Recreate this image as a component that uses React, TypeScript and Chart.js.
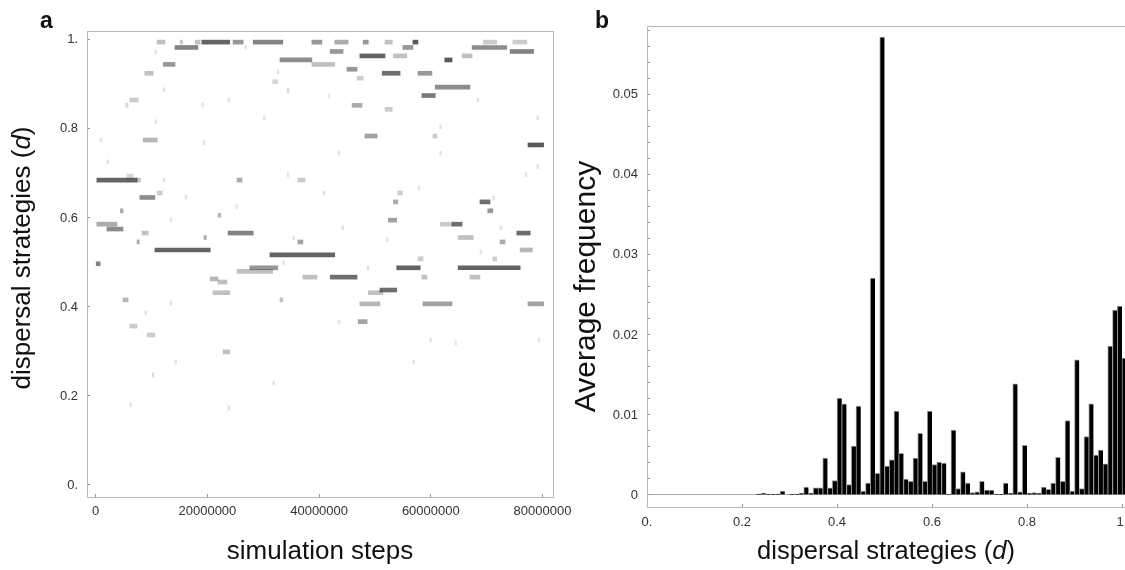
import React, { useEffect, useRef } from "react";
import { Chart, registerables } from "chart.js";

Chart.register(...registerables);

const FONT = "'Liberation Sans', Arial, Helvetica, sans-serif";

// ---------- Panel a: strategy occupancy over time (segments in millions of steps) ----------
const segStartM = [11.0, 15.1, 17.8, 19.0, 24.6, 28.2, 38.7, 42.8, 47.9, 51.8, 56.8, 69.4, 74.7, 14.2, 55.0, 67.4, 42.0, 74.2, 47.3, 53.3, 65.6, 33.0, 62.5, 12.1, 38.7, 45.0, 8.8, 51.3, 57.7, 46.8, 31.7, 60.8, 34.3, 58.4, 6.1, 5.4, 45.9, 51.8, 48.2, 60.4, 8.5, 77.4, 5.6, 0.2, 7.4, 25.3, 36.2, 11.0, 54.1, 7.9, 53.3, 68.8, 4.4, 70.2, 21.9, 52.4, 0.2, 61.7, 63.8, 2.0, 8.3, 23.7, 75.4, 19.4, 64.9, 7.4, 36.2, 72.4, 10.6, 76.0, 31.2, 57.7, 71.1, 0.0, 27.6, 53.9, 64.9, 25.3, 37.1, 42.0, 58.4, 67.0, 20.5, 21.9, 50.9, 48.8, 21.0, 4.9, 33.0, 47.3, 58.6, 77.4, 47.0, 6.1, 9.2, 22.8, 10.1];
const segEndM = [12.4, 15.6, 18.7, 24.0, 26.4, 33.5, 40.5, 45.2, 48.8, 53.1, 57.7, 71.8, 77.2, 18.3, 56.8, 73.6, 44.3, 78.4, 51.8, 55.7, 67.4, 38.7, 63.8, 14.2, 42.8, 46.8, 10.3, 54.5, 60.2, 47.9, 32.6, 67.0, 34.6, 60.8, 7.6, 5.8, 47.7, 53.1, 50.4, 61.1, 11.0, 80.2, 6.7, 7.4, 8.0, 26.2, 37.5, 11.9, 54.9, 10.6, 54.1, 70.6, 4.9, 71.1, 22.4, 53.9, 3.8, 63.8, 65.6, 4.9, 9.4, 28.2, 77.8, 19.8, 67.6, 7.8, 37.1, 73.3, 20.5, 78.2, 42.8, 58.6, 71.8, 0.8, 32.6, 58.1, 76.0, 31.7, 39.6, 46.8, 59.3, 68.8, 21.9, 23.5, 53.9, 51.4, 24.0, 5.8, 33.5, 50.9, 63.8, 80.2, 48.6, 7.4, 10.6, 24.0, 10.4];
const segStrategy = [0.995, 0.995, 0.995, 0.995, 0.995, 0.995, 0.995, 0.995, 0.995, 0.995, 0.995, 0.995, 0.995, 0.983, 0.983, 0.983, 0.974, 0.974, 0.964, 0.964, 0.964, 0.955, 0.955, 0.945, 0.945, 0.934, 0.925, 0.925, 0.925, 0.914, 0.906, 0.894, 0.886, 0.875, 0.865, 0.853, 0.853, 0.844, 0.784, 0.784, 0.775, 0.764, 0.694, 0.685, 0.685, 0.685, 0.685, 0.656, 0.656, 0.646, 0.636, 0.636, 0.616, 0.616, 0.606, 0.595, 0.586, 0.586, 0.586, 0.575, 0.566, 0.566, 0.566, 0.556, 0.556, 0.546, 0.546, 0.546, 0.528, 0.528, 0.517, 0.508, 0.508, 0.497, 0.488, 0.488, 0.488, 0.48, 0.467, 0.467, 0.467, 0.467, 0.463, 0.456, 0.438, 0.432, 0.432, 0.416, 0.416, 0.407, 0.407, 0.407, 0.367, 0.357, 0.337, 0.299, 0.247];
const segShade = [0.3, 0.25, 0.3, 0.75, 0.5, 0.6, 0.5, 0.4, 0.5, 0.3, 0.8, 0.25, 0.25, 0.6, 0.5, 0.55, 0.5, 0.6, 0.75, 0.3, 0.3, 0.55, 0.8, 0.5, 0.3, 0.5, 0.3, 0.7, 0.5, 0.25, 0.2, 0.55, 0.2, 0.65, 0.25, 0.2, 0.4, 0.25, 0.45, 0.25, 0.35, 0.8, 0.2, 0.75, 0.3, 0.4, 0.25, 0.25, 0.25, 0.55, 0.4, 0.7, 0.4, 0.5, 0.35, 0.45, 0.4, 0.25, 0.7, 0.55, 0.3, 0.6, 0.7, 0.4, 0.3, 0.4, 0.45, 0.4, 0.75, 0.35, 0.75, 0.25, 0.25, 0.6, 0.5, 0.75, 0.75, 0.3, 0.3, 0.7, 0.3, 0.3, 0.35, 0.3, 0.7, 0.3, 0.3, 0.35, 0.3, 0.35, 0.45, 0.45, 0.45, 0.25, 0.25, 0.3, 0.2];

// faint isolated occurrences (millions of steps, strategy)
const speckTimeM = [10.6, 12.1, 19.0, 23.7, 26.7, 30.0, 10.6, 32.5, 16.0, 34.3, 25.1, 13.3, 2.0, 12.1, 0.8, 19.2, 33.5, 35.3, 41.6, 61.6, 68.3, 79.0, 43.4, 61.6, 79.0, 76.9, 40.7, 57.7, 71.1, 44.1, 72.4, 52.1, 68.8, 48.6, 13.3, 8.8, 14.2, 31.7, 6.1, 23.7, 43.4, 56.8, 64.3, 59.8, 79.2];
const speckStrategy = [0.973, 0.888, 0.854, 0.865, 0.984, 0.825, 0.816, 0.928, 0.647, 0.697, 0.625, 0.596, 0.726, 0.685, 0.775, 0.769, 0.499, 0.555, 0.874, 0.804, 0.865, 0.825, 0.746, 0.746, 0.715, 0.697, 0.656, 0.667, 0.645, 0.578, 0.578, 0.551, 0.524, 0.488, 0.409, 0.387, 0.276, 0.229, 0.18, 0.173, 0.366, 0.276, 0.319, 0.326, 0.326];

const timeTicks = [0, 20000000, 40000000, 60000000, 80000000];
const timeTickLabels = ["0", "20000000", "40000000", "60000000", "80000000"];
const strategyTicks = [0, 0.2, 0.4, 0.6, 0.8, 1];
const strategyTickLabels = ["0.", "0.2", "0.4", "0.6", "0.8", "1."];

// ---------- Panel b: histogram of average frequency, bins of width 0.01 starting at 0 ----------
const binWidth = 0.01;
const freqValues = [
  0, 0, 0, 0, 0, 0, 0, 0, 0, 0,
  0, 0, 0, 0, 0, 0, 0, 0, 0, 0,
  0, 0, 0, 0.0001, 0.0002, 0.0001, 0.0001, 0.0001, 0.0005, 0,
  0.0001, 0.0001, 0.0002, 0.0010, 0.0002, 0.0009, 0.0009, 0.0046, 0.0009, 0.0018,
  0.0121, 0.0114, 0.0013, 0.0061, 0.0111, 0.0005, 0.0015, 0.0271, 0.0027, 0.0572,
  0.0036, 0.0044, 0.0105, 0.0052, 0.0020, 0.0017, 0.0046, 0.0077, 0.0017, 0.0105,
  0.0038, 0.0041, 0.0040, 0.0001, 0.0081, 0.0008, 0.0029, 0.0015, 0.0003, 0.0004,
  0.0017, 0.0006, 0.0006, 0.0001, 0.0001, 0.0015, 0.0002, 0.0139, 0.0004, 0.0062,
  0.0002, 0.0003, 0.0002, 0.0010, 0.0007, 0.0015, 0.0047, 0.0017, 0.0093, 0.0005,
  0.0169, 0.0008, 0.0073, 0.0114, 0.0050, 0.0056, 0.0039, 0.0186, 0.0231, 0.0236,
  0.0171,
];
const dispersalTicks = [0, 0.2, 0.4, 0.6, 0.8, 1];
const dispersalTickLabels = ["0.", "0.2", "0.4", "0.6", "0.8", "1."];
const freqMajorTicks = [0, 0.01, 0.02, 0.03, 0.04, 0.05];
const freqMajorLabels = ["0", "0.01", "0.02", "0.03", "0.04", "0.05"];
const freqMinorStep = 0.002;
const freqTickMax = 0.058;

type Part = { t: string; i?: boolean };

function drawRich(ctx: CanvasRenderingContext2D, parts: Part[], cx: number, cy: number, size: number, rot: number) {
  ctx.save();
  ctx.translate(cx, cy);
  ctx.rotate(rot);
  ctx.fillStyle = "#111";
  ctx.textBaseline = "middle";
  ctx.textAlign = "left";
  const fontOf = (p: Part) => `${p.i ? "italic " : ""}${size}px ${FONT}`;
  let total = 0;
  const widths = parts.map((p) => {
    ctx.font = fontOf(p);
    const w = ctx.measureText(p.t).width;
    total += w;
    return w;
  });
  let x = -total / 2;
  parts.forEach((p, k) => {
    ctx.font = fontOf(p);
    ctx.fillText(p.t, x, 0);
    x += widths[k];
  });
  ctx.restore();
}

const dispersalTitle: Part[] = [{ t: "dispersal strategies (" }, { t: "d", i: true }, { t: ")" }];

const decorA = {
  id: "decorA",
  afterDraw(chart: any) {
    const { ctx, chartArea } = chart;
    const { left, right, top, bottom } = chartArea;
    ctx.save();
    ctx.strokeStyle = "#b8b8b8";
    ctx.lineWidth = 1;
    ctx.strokeRect(Math.round(left) + 0.5, Math.round(top) + 0.5, Math.round(right - left), Math.round(bottom - top));
    ctx.restore();
    drawRich(ctx, dispersalTitle, 23, (top + bottom) / 2 - 6, 26, -Math.PI / 2);
    drawRich(ctx, [{ t: "simulation steps" }], (left + right) / 2, 552, 26, 0);
    ctx.save();
    ctx.fillStyle = "#111";
    ctx.font = `bold 23px ${FONT}`;
    ctx.textBaseline = "alphabetic";
    ctx.fillText("a", 40, 28);
    ctx.restore();
  },
};

const decorB = {
  id: "decorB",
  afterDraw(chart: any) {
    const { ctx, chartArea } = chart;
    const { left, right, top, bottom } = chartArea;
    ctx.save();
    ctx.strokeStyle = "#b8b8b8";
    ctx.lineWidth = 1;
    ctx.beginPath();
    const l = Math.round(left) + 0.5;
    const t = Math.round(top) + 0.5;
    const b = Math.round(bottom) + 0.5;
    ctx.moveTo(right, t);
    ctx.lineTo(l, t);
    ctx.lineTo(l, b);
    ctx.lineTo(right, b);
    ctx.stroke();
    ctx.restore();
    drawRich(ctx, [{ t: "Average frequency" }], 17, (top + bottom) / 2 + 20, 30, -Math.PI / 2);
    drawRich(ctx, dispersalTitle, (left + right) / 2, 552, 25.5, 0);
    ctx.save();
    ctx.fillStyle = "#111";
    ctx.font = `bold 23px ${FONT}`;
    ctx.textBaseline = "alphabetic";
    ctx.fillText("b", 25, 28);
    ctx.restore();
  },
};

const tickFont = { family: FONT, size: 13 };

function zeroPad(s: any) {
  s.paddingLeft = 0;
  s.paddingRight = 0;
  s.paddingTop = 0;
  s.paddingBottom = 0;
}

export default function App() {
  const refA = useRef<HTMLCanvasElement>(null);
  const refB = useRef<HTMLCanvasElement>(null);

  useEffect(() => {
    const segData = segStartM.map((s, i) => ({ x: [s * 1e6, segEndM[i] * 1e6], y: segStrategy[i] }));
    const speckData = speckTimeM.map((t, i) => ({ x: [t * 1e6, (t + 0.3) * 1e6], y: speckStrategy[i] }));
    const aData = segData.concat(speckData);
    const aColors = segShade.map((l) => `rgba(25,25,25,${l * 0.9})`).concat(speckTimeM.map(() => "rgba(25,25,25,0.12)"));

    const chartA = new Chart(refA.current as HTMLCanvasElement, {
      type: "bar",
      data: {
        datasets: [
          {
            data: aData as any,
            backgroundColor: aColors,
            borderWidth: 0,
            barThickness: 4,
          },
        ],
      },
      options: {
        indexAxis: "y",
        responsive: false,
        animation: false,
        events: [],
        layout: { padding: { left: 0, top: 31, right: 27, bottom: 0 } },
        plugins: { legend: { display: false }, tooltip: { enabled: false } },
        scales: {
          x: {
            type: "linear",
            position: "bottom",
            min: -1.56e6,
            max: 81.88e6,
            offset: false,
            afterFit: (s: any) => {
              s.height = 73;
              zeroPad(s);
            },
            afterBuildTicks: (s: any) => {
              s.ticks = timeTicks.map((v) => ({ value: v }));
            },
            ticks: {
              autoSkip: false,
              maxRotation: 0,
              padding: 10,
              color: "#333",
              font: tickFont,
              callback: (_v: any, i: number) => timeTickLabels[i],
            },
            grid: { display: true, drawOnChartArea: false, drawTicks: true, tickLength: -3, tickColor: "#999", offset: false },
            border: { display: false },
          },
          y: {
            type: "linear",
            position: "left",
            min: -0.027,
            max: 1.02,
            offset: false,
            afterFit: (s: any) => {
              s.width = 87;
              zeroPad(s);
            },
            afterBuildTicks: (s: any) => {
              s.ticks = strategyTicks.map((v) => ({ value: v }));
            },
            ticks: {
              autoSkip: false,
              padding: 12,
              color: "#333",
              font: tickFont,
              callback: (_v: any, i: number) => strategyTickLabels[i],
            },
            grid: { display: true, drawOnChartArea: false, drawTicks: true, tickLength: -3, tickColor: "#999", offset: false },
            border: { display: false },
          },
        },
      } as any,
      plugins: [decorA],
    });

    const binData = freqValues.map((v, i) => ({ x: (i + 0.5) * binWidth, y: v }));
    const yTickValues: number[] = [];
    for (let k = 0; k * freqMinorStep <= freqTickMax + 1e-9; k++) yTickValues.push(+(k * freqMinorStep).toFixed(4));

    const chartB = new Chart(refB.current as HTMLCanvasElement, {
      type: "bar",
      data: {
        datasets: [
          {
            data: binData as any,
            backgroundColor: "#000",
            borderColor: "#9a9a9a",
            borderWidth: { left: 1, top: 1, right: 0, bottom: 0 },
            borderSkipped: false,
            categoryPercentage: 1,
            barPercentage: 1,
          },
        ],
      },
      options: {
        responsive: false,
        animation: false,
        events: [],
        layout: { padding: { left: 0, top: 26, right: 0, bottom: 0 } },
        plugins: { legend: { display: false }, tooltip: { enabled: false } },
        scales: {
          x: {
            type: "linear",
            position: "bottom",
            min: 0,
            max: 1.0063,
            offset: false,
            afterFit: (s: any) => {
              s.height = 63;
              zeroPad(s);
            },
            afterBuildTicks: (s: any) => {
              s.ticks = dispersalTicks.map((v) => ({ value: v }));
            },
            ticks: {
              autoSkip: false,
              maxRotation: 0,
              padding: 11,
              color: "#333",
              font: tickFont,
              callback: (_v: any, i: number) => dispersalTickLabels[i],
            },
            grid: { display: true, drawOnChartArea: false, drawTicks: true, tickLength: -3, tickColor: "#999", offset: false },
            border: { display: false },
          },
          y: {
            type: "linear",
            position: "left",
            min: -0.0015,
            max: 0.0586,
            afterFit: (s: any) => {
              s.width = 77;
              zeroPad(s);
            },
            afterBuildTicks: (s: any) => {
              s.ticks = yTickValues.map((v) => ({ value: v }));
            },
            ticks: {
              autoSkip: false,
              padding: 12,
              color: "#333",
              font: tickFont,
              callback: (v: any) => {
                const idx = freqMajorTicks.findIndex((m) => Math.abs(m - v) < 1e-9);
                return idx >= 0 ? freqMajorLabels[idx] : "";
              },
            },
            grid: {
              display: true,
              drawOnChartArea: true,
              drawTicks: true,
              tickLength: -3,
              tickColor: "#999",
              color: (c: any) => (c.tick && Math.abs(c.tick.value) < 1e-12 ? "#a8a8a8" : "rgba(0,0,0,0)"),
            },
            border: { display: false },
          },
        },
      } as any,
      plugins: [decorB],
    });

    return () => {
      chartA.destroy();
      chartB.destroy();
    };
  }, []);

  return (
    <div style={{ position: "absolute", left: 0, top: 0, width: 1125, height: 570, background: "#fff", overflow: "hidden" }}>
      <canvas ref={refA} width={580} height={570} style={{ position: "absolute", left: 0, top: 0 }} />
      <canvas ref={refB} width={555} height={570} style={{ position: "absolute", left: 570, top: 0 }} />
    </div>
  );
}
